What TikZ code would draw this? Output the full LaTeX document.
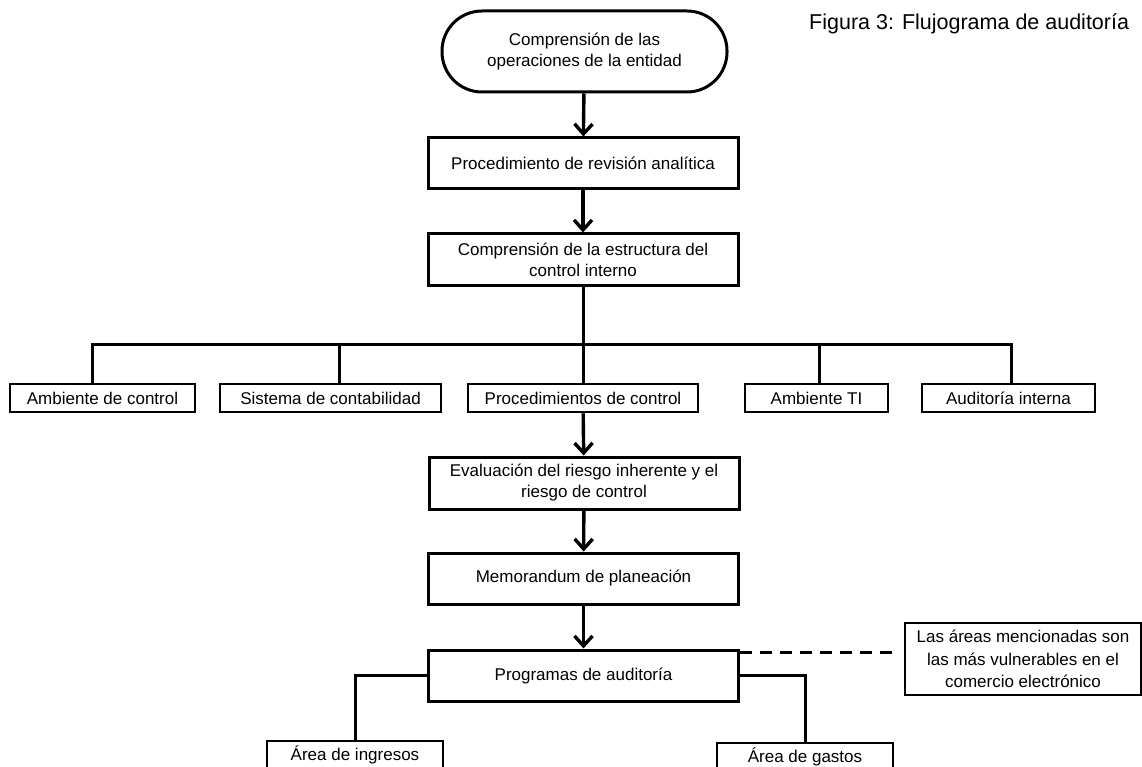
\documentclass[tikz,border=0pt]{standalone}
\usepackage{fontspec}
\setmainfont{Liberation Sans}
\usetikzlibrary{arrows.meta}
\begin{document}
\begin{tikzpicture}[x=1pt,y=-1pt,
  every node/.style={font=\fontsize{17}{21}\selectfont, inner sep=0pt, align=center},
  bigbox/.style={draw, line width=3pt, minimum height=51pt, minimum width=310pt},
  smallbox/.style={draw, line width=2.5pt, minimum height=28pt},
  conn/.style={line width=3pt},
  flow/.style={line width=3.4pt, -{Straight Barb[length=10pt,width=18pt,line width=3.4pt]}},
]
\clip (0,0) rectangle (1142,767);
\fill[white] (0,0) rectangle (1142,767);

\node[anchor=base west, font=\fontsize{21.5}{26}\selectfont] (title) at (809,30) {Figura 3: Flujograma de auditoría};

\node[draw, line width=3pt, rounded corners=40pt, minimum width=285pt, minimum height=81pt] (start) at (584.5,51.5) {Comprensión de las\\operaciones de la entidad};
\node[bigbox] (proc) at (583,163.5) {Procedimiento de revisión analítica};
\node[bigbox] (comp) at (583,259.5) {Comprensión de la estructura del\\control interno};

\node[smallbox, minimum width=185pt] (amb) at (102.5,398) {Ambiente de control};
\node[smallbox, minimum width=221pt] (sis) at (330.5,398) {Sistema de contabilidad};
\node[smallbox, minimum width=230pt] (pctl) at (583,398) {Procedimientos de control};
\node[smallbox, minimum width=143pt] (ti) at (816.5,398) {Ambiente TI};
\node[smallbox, minimum width=173pt] (aud) at (1008.5,398) {Auditoría interna};

\node[bigbox, minimum height=52pt] (eval) at (584,483) {Evaluación del riesgo inherente y el\\riesgo de control};
\node[bigbox] (memo) at (583.5,578.5) {Memorandum de planeación};
\node[bigbox] (prog) at (583.5,675.5) {Programas de auditoría};

\node[draw, line width=1.2pt, minimum width=236pt, minimum height=72pt, font=\fontsize{17}{22.5}\selectfont] (ann) at (1023,659) {Las áreas mencionadas son\\las más vulnerables en el\\comercio electrónico};

\node[smallbox, minimum width=176pt] (ing) at (355,755) {Área de ingresos};
\node[smallbox, minimum width=176pt] (gas) at (805,757) {Área de gastos};

% flow arrows
\draw[flow] (start) -- (proc);
\draw[flow] (proc) -- (comp);
\draw[conn] (comp) -- (pctl);
\draw[flow] (pctl) -- (eval);
\draw[flow] (eval) -- (memo);
\draw[flow] (memo) -- (prog);

% bus
\coordinate (busL) at (92,344);
\coordinate (bus2) at (339,344);
\coordinate (bus4) at (819,344);
\coordinate (busR) at (1011,344);
\draw[conn, line cap=rect] (busL) -- (busR);
\draw[conn] (busL) -- (busL |- amb.north);
\draw[conn] (bus2) -- (bus2 |- sis.north);
\draw[conn] (bus4) -- (bus4 |- ti.north);
\draw[conn] (busR) -- (busR |- aud.north);

% branches
\draw[conn] (prog.west) -| (ing.north);
\draw[conn] (prog.east) -| (gas.north);
\coordinate (dashEnd) at (893,652);
\draw[line width=3pt, dash pattern=on 12pt off 8pt] (prog.east |- dashEnd) -- (dashEnd);
\end{tikzpicture}
\end{document}
